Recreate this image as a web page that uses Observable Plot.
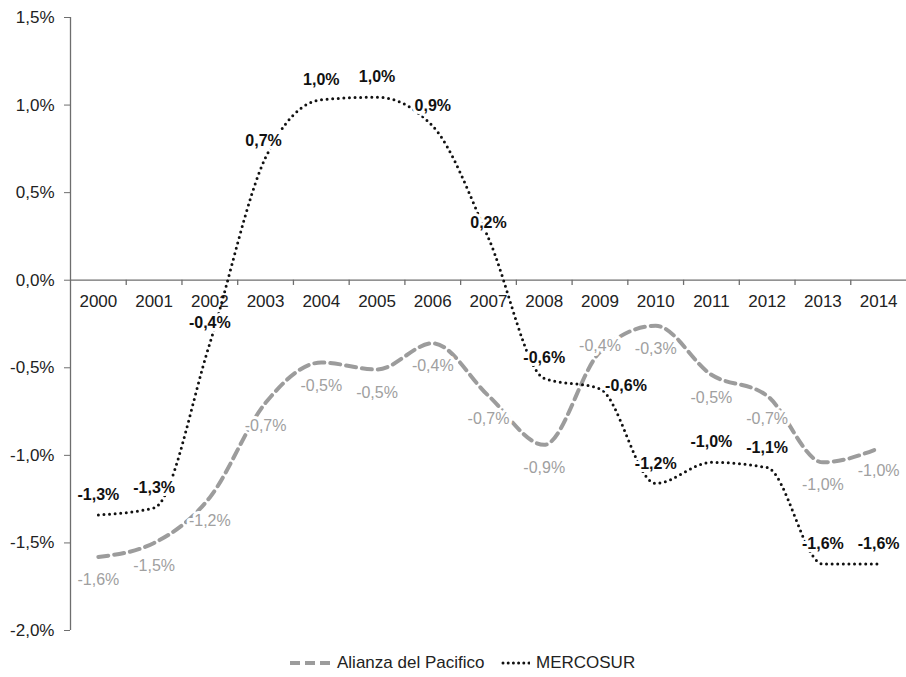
<!DOCTYPE html>
<html>
<head>
<meta charset="utf-8">
<script src="https://cdn.jsdelivr.net/npm/d3@7"></script>
<script src="https://cdn.jsdelivr.net/npm/@observablehq/plot@0.6"></script>
<style>
  body { margin: 0; background: #fff; font-family: "Liberation Sans Narrow", "Arial Narrow", "Liberation Sans", Arial, sans-serif; }
  #legend { position: relative; height: 37px; width: 906px; }
  .item { position: absolute; top: 14px; display: flex; align-items: center; font-size: 17px; color: #222; line-height: 18px; }
  .item svg { margin-right: 6px; }
</style>
</head>
<body>
<div id="chart"></div>
<div id="legend"></div>
<script>
// ---- data ----
const years = [2000, 2001, 2002, 2003, 2004, 2005, 2006, 2007, 2008, 2009, 2010, 2011, 2012, 2013, 2014];
const alianza = [-1.58, -1.50, -1.24, -0.70, -0.47, -0.51, -0.36, -0.66, -0.94, -0.41, -0.26, -0.54, -0.66, -1.04, -0.96];
const mercosur = [-1.34, -1.30, -0.36, 0.70, 1.03, 1.045, 0.88, 0.24, -0.56, -0.62, -1.16, -1.04, -1.07, -1.62, -1.62];
const yTicks = [-2, -1.5, -1, -0.5, 0, 0.5, 1, 1.5];
const seriesNames = ["Alianza del Pacifico", "MERCOSUR"];

// ---- helpers ----
const fmt = v => v.toFixed(1).replace(".", ",") + "%";
const rows = [];
years.forEach((yr, i) => rows.push({year: yr, value: alianza[i], series: seriesNames[0]}));
years.forEach((yr, i) => rows.push({year: yr, value: mercosur[i], series: seriesNames[1]}));
const aRows = rows.filter(d => d.series === seriesNames[0]);
const mRows = rows.filter(d => d.series === seriesNames[1]);
const boundaries = years.slice(0, -1).map(y => y + 0.5);

// label placement tweaks (layout, not data)
const aOff = d => d.year === 2009 ? [0, -6] : [0, 23];
const mOff = d => d.year === 2009 ? [26, -3] : d.year === 2003 ? [-2, -17] : d.year === 2007 ? [0, -15] : [0, -20];
const labelMarks = (data, off, opts) =>
  d3.groups(data, d => off(d).join(",")).map(([, g]) =>
    Plot.text(g, {x: "year", y: "value", text: d => fmt(d.value), dx: off(g[0])[0], dy: off(g[0])[1], ...opts}));

const FONT = '"Liberation Sans Narrow", "Arial Narrow", "Liberation Sans", Arial, sans-serif';

const chart = Plot.plot({
  width: 906,
  height: 640,
  marginLeft: 70,
  marginRight: 0,
  marginTop: 17,
  marginBottom: 10,
  style: {fontFamily: FONT, fontSize: "17px", color: "#222", background: "#fff"},
  x: {type: "linear", domain: [years[0] - 0.5, years[years.length - 1] + 0.5], axis: null},
  y: {domain: [yTicks[0], yTicks[yTicks.length - 1]], axis: null},
  marks: [
    // y axis
    Plot.ruleX([years[0] - 0.5], {y1: yTicks[0], y2: yTicks[yTicks.length - 1], stroke: "#6e6e6e", strokeWidth: 1.3}),
    Plot.axisY({ticks: yTicks, tickFormat: fmt, tickSize: 6, tickPadding: 10, stroke: "#6e6e6e", fill: "#222", fontSize: 17, label: null}),
    // zero line + category ticks
    Plot.ruleY([0], {stroke: "#6e6e6e", strokeWidth: 1.3}),
    Plot.ruleX(boundaries, {y1: 0, y2: -0.03, stroke: "#6e6e6e", strokeWidth: 1.3}),
    Plot.text(years, {x: d => d, y: 0, dy: 21, text: d => String(d), fill: "#222", fontSize: 17}),
    // lines
    Plot.line(aRows, {x: "year", y: "value", curve: "monotone-x", stroke: "#9c9c9c", strokeWidth: 4, strokeDasharray: "10 6"}),
    Plot.line(mRows, {x: "year", y: "value", curve: "monotone-x", stroke: "#111", strokeWidth: 3, strokeDasharray: "0 5.6", strokeLinecap: "round"}),
    // labels
    ...labelMarks(aRows, aOff, {fill: "#a0a0a0", stroke: "white", strokeWidth: 6, fontSize: 16}),
    ...labelMarks(mRows, mOff, {fill: "#111", stroke: "white", strokeWidth: 6, fontSize: 16, fontWeight: "bold"})
  ]
});
document.getElementById("chart").appendChild(chart);

// legend
const legend = document.getElementById("legend");
const items = [
  {name: seriesNames[0], left: 289, svg: '<svg width="42" height="8"><line x1="1" y1="4" x2="41" y2="4" stroke="#9c9c9c" stroke-width="4" stroke-dasharray="10 5"/></svg>'},
  {name: seriesNames[1], left: 500, svg: '<svg width="30" height="8"><line x1="3" y1="4" x2="29" y2="4" stroke="#111" stroke-width="3" stroke-dasharray="0 5.2" stroke-linecap="round"/></svg>'}
];
items.forEach(it => {
  const div = document.createElement("div");
  div.className = "item";
  div.style.left = it.left + "px";
  div.innerHTML = it.svg + "<span>" + it.name + "</span>";
  legend.appendChild(div);
});
</script>
</body>
</html>
